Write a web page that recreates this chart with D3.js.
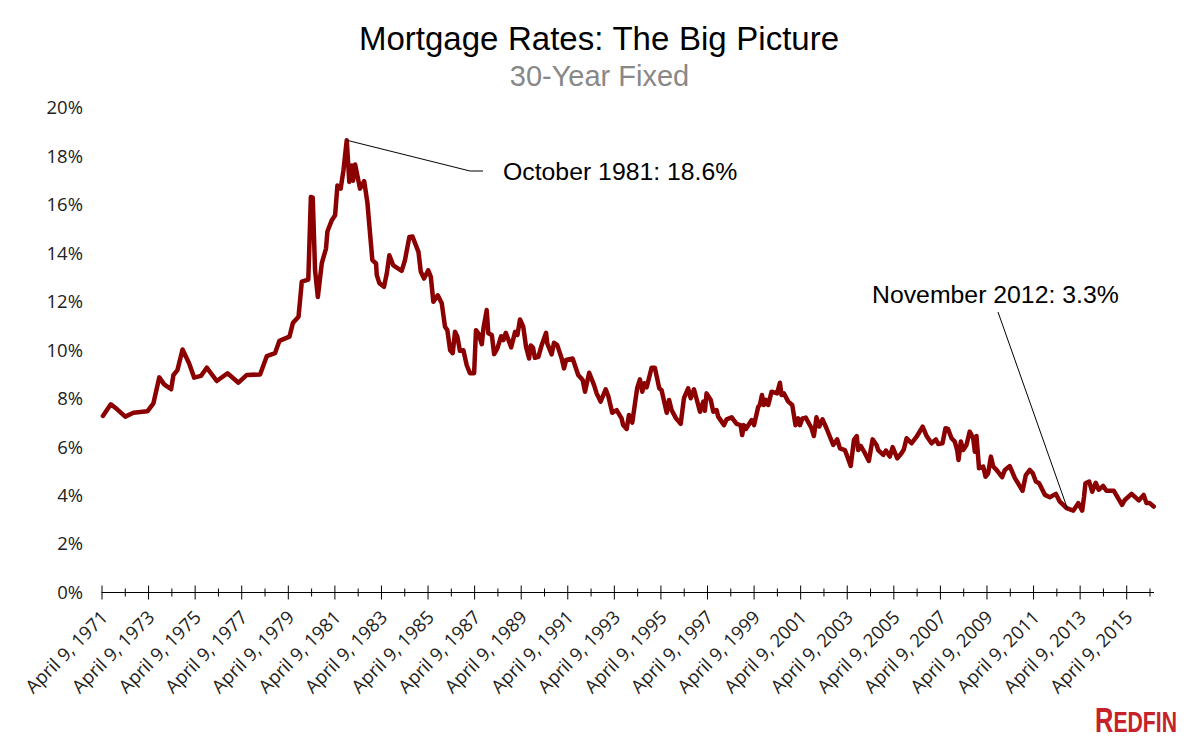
<!DOCTYPE html>
<html>
<head>
<meta charset="utf-8">
<script src="https://cdn.jsdelivr.net/npm/d3@7"></script>
<style>
  html, body { margin: 0; padding: 0; background: #fff; }
  text { font-family: "Liberation Sans", Arial, sans-serif; }
  .tick text { font-family: "Open Sans", sans-serif; font-size: 18.5px; fill: #222; }
</style>
</head>
<body>
<div id="chart"></div>
<script>
// decimal years
const years = [
  1971.33,1971.67,1971.93,1972.29,1972.64,1973.24,1973.50,1973.75,1973.96,1974.26,1974.36,1974.53,1974.75,1975.03,1975.25,1975.54,1975.79,1976.22,1976.68,1977.15,1977.51,1978.08,1978.37,1978.72,1978.91,
  1979.34,1979.49,1979.73,1979.87,1980.15,1980.26,1980.34,1980.44,1980.56,1980.73,1980.91,1980.97,1981.16,1981.30,1981.40,1981.54,1981.66,1981.80,1981.91,1982.02,1982.07,1982.16,1982.37,1982.55,1982.69,1982.80,1982.90,
  1983.06,1983.09,1983.20,1983.40,1983.52,1983.63,1983.80,1984.16,1984.30,1984.49,1984.62,1984.88,1984.98,1985.12,1985.30,1985.41,1985.52,1985.71,1985.88,1986.02,1986.12,1986.24,1986.35,1986.45,1986.55,1986.66,1986.81,1986.95,
  1987.09,1987.27,1987.35,1987.45,1987.60,1987.67,1987.81,1987.88,1988.03,1988.13,1988.27,1988.43,1988.53,1988.63,1988.86,1989.03,1989.13,1989.24,1989.38,1989.50,1989.63,1989.70,1989.80,1989.88,
  1990.03,1990.17,1990.36,1990.41,1990.60,1990.70,1990.84,1991.03,1991.13,1991.22,1991.50,1991.74,1991.93,1992.03,1992.21,1992.42,1992.53,1992.70,1992.92,1993.03,1993.20,1993.39,1993.60,1993.67,1993.82,1993.92,
  1994.06,1994.27,1994.39,1994.49,1994.58,1994.68,1994.89,1995.03,1995.22,1995.32,1995.54,1995.64,1995.75,1995.94,1996.14,1996.28,1996.46,1996.57,1996.71,1996.97,1997.11,1997.18,1997.25,1997.43,1997.54,1997.68,1997.75,
  1998.00,1998.11,1998.33,1998.54,1998.71,1998.78,1998.85,1998.94,1999.19,1999.29,1999.47,1999.54,1999.63,1999.71,1999.80,1999.90,2000.04,2000.28,2000.40,2000.47,2000.57,2000.76,2000.93,
  2001.07,2001.18,2001.26,2001.37,2001.51,2001.76,2001.86,2001.97,2002.09,2002.23,2002.40,2002.69,2002.86,2002.98,2003.19,2003.27,2003.44,2003.58,2003.70,2003.76,2003.87,
  2004.05,2004.22,2004.38,2004.55,2004.62,2004.84,2004.95,2005.12,2005.24,2005.44,2005.62,2005.72,2005.84,2006.05,2006.27,2006.53,2006.70,2006.91,2007.10,2007.20,2007.38,2007.51,2007.62,2007.77,2007.91,
  2008.01,2008.07,2008.17,2008.27,2008.41,2008.55,2008.70,2008.77,2008.84,2008.95,2009.13,2009.23,2009.34,2009.46,2009.56,2009.70,2009.94,2010.06,2010.27,2010.49,2010.82,2010.96,
  2011.13,2011.26,2011.39,2011.53,2011.78,2011.99,2012.25,2012.42,2012.71,2013.00,2013.21,2013.38,2013.46,2013.52,2013.68,2013.81,2013.96,2014.09,2014.28,2014.42,2014.74,2015.09,2015.21,2015.50,2015.81,2016.02,2016.14,2016.28,2016.45
];
const rates = [
  7.29,7.77,7.57,7.26,7.42,7.48,7.81,8.88,8.59,8.39,8.98,9.18,10.03,9.46,8.87,8.94,9.28,8.73,9.05,8.66,8.98,9.0,9.76,9.88,10.39,
  10.56,11.13,11.38,12.83,12.92,16.33,16.3,13.3,12.2,13.6,14.2,14.9,15.37,15.57,16.8,16.67,17.43,18.67,16.95,17.63,17.0,17.67,16.67,16.98,16.07,14.83,13.72,
  13.58,13.1,12.77,12.62,13.17,13.92,13.5,13.28,13.72,14.68,14.7,14.06,13.24,12.96,13.3,13.03,12.0,12.27,11.94,10.97,10.83,10.0,9.88,10.76,10.56,9.98,10.0,9.39,
  9.05,9.05,10.83,10.7,10.25,10.9,11.66,10.7,10.63,9.84,10.08,10.58,10.42,10.72,10.12,10.76,10.63,11.27,10.97,10.14,9.66,10.2,10.1,9.69,
  9.73,10.21,10.72,10.28,9.83,10.31,10.21,9.66,9.25,9.6,9.66,8.98,8.77,8.29,9.07,8.56,8.22,7.88,8.39,8.11,7.42,7.53,7.19,6.91,6.75,7.33,
  7.01,8.43,8.8,8.29,8.64,8.47,9.28,9.28,8.43,8.35,7.42,7.95,7.53,7.19,6.96,8.02,8.43,8.02,8.39,7.46,7.88,7.5,8.22,7.95,7.46,7.53,7.26,
  6.91,7.15,7.23,6.96,6.91,6.5,6.91,6.75,7.12,6.91,7.67,7.74,8.15,7.74,7.95,7.74,8.29,8.22,8.66,8.15,8.22,7.88,7.74,
  6.91,7.19,6.91,7.19,7.22,6.78,6.46,7.23,6.85,7.15,6.78,6.09,6.32,5.95,5.88,5.68,5.22,6.3,6.46,5.88,6.05,
  5.75,5.43,6.32,6.09,5.88,5.68,5.86,5.61,6.0,5.54,5.75,5.9,6.37,6.16,6.43,6.85,6.46,6.16,6.32,6.13,6.16,6.78,6.75,6.37,6.23,
  5.88,5.47,6.23,5.88,6.09,6.64,6.37,5.81,6.46,5.13,5.2,4.78,4.92,5.61,5.2,5.06,4.76,5.06,5.22,4.72,4.2,4.85,
  5.06,4.92,4.58,4.51,4.03,3.93,4.07,3.75,3.48,3.38,3.69,3.38,3.96,4.51,4.58,4.16,4.53,4.24,4.4,4.2,4.2,3.62,3.82,4.07,3.8,4.03,3.69,3.69,3.55
];
const majorTicks = [1971,1973,1975,1977,1979,1981,1983,1985,1987,1989,1991,1993,1995,1997,1999,2001,2003,2005,2007,2009,2011,2013,2015];
const minorTicks = [1972,1974,1976,1978,1980,1982,1984,1986,1988,1990,1992,1994,1996,1998,2000,2002,2004,2006,2008,2010,2012,2014,2016];
const yTicks = [0,2,4,6,8,10,12,14,16,18,20];

const w = 1200, h = 750;
const tickOffset = 0.27; // ticks fall on April 9

const x = d3.scaleLinear().domain([1971.27, 2016.27]).range([101.5, 1149.5]);
const y = d3.scaleLinear().domain([0, 20]).range([592.5, 108]);

const svg = d3.select("#chart").append("svg")
  .attr("width", w)
  .attr("height", h)
  .style("display", "block");

// titles
svg.append("text").attr("x", 599).attr("y", 50)
  .attr("text-anchor", "middle")
  .style("font-size", "33px").style("word-spacing", "0.5px").style("fill", "#000")
  .text("Mortgage Rates: The Big Picture");
svg.append("text").attr("x", 599.5).attr("y", 86)
  .attr("text-anchor", "middle")
  .style("font-size", "29px").style("fill", "#888")
  .text("30-Year Fixed");

// y axis, labels only
const yAxis = svg.append("g")
  .attr("transform", "translate(83,0)")
  .call(d3.axisLeft(y).tickValues(yTicks).tickSize(0).tickPadding(0).tickFormat(d => d + "%"));
yAxis.select(".domain").remove();

// x axis
const xMinor = svg.append("g")
  .attr("transform", "translate(0," + y(0) + ")")
  .call(d3.axisBottom(x).tickValues(minorTicks.map(d => d + tickOffset)).tickSize(4).tickFormat(""));
xMinor.select(".domain").remove();
xMinor.selectAll("line").attr("y1", -4).attr("stroke", "#000");

const xMajor = svg.append("g")
  .attr("transform", "translate(0," + y(0) + ")")
  .call(d3.axisBottom(x).tickValues(majorTicks.map(d => d + tickOffset)).tickSize(7)
    .tickFormat(d => "April 9, " + Math.floor(d)));
xMajor.select(".domain").remove();
xMajor.selectAll("line").attr("y1", -7).attr("stroke", "#000");
xMajor.selectAll("text")
  .attr("text-anchor", "end")
  .attr("dy", 0)
  .attr("transform", d => "translate(0,19) rotate(-45)");

svg.append("line")
  .attr("x1", x(1971.27)).attr("x2", 1154)
  .attr("y1", y(0)).attr("y2", y(0))
  .attr("stroke", "#000");

// the series
const line = d3.line()
  .x((d, i) => x(years[i]))
  .y(d => y(d))
  .curve(d3.curveLinear);

svg.append("path")
  .datum(rates)
  .attr("d", line)
  .attr("fill", "none")
  .attr("stroke", "#8b0000")
  .attr("stroke-width", 4.5)
  .attr("stroke-linejoin", "round")
  .attr("stroke-linecap", "round");

// callouts
svg.append("polyline")
  .attr("points", [[x(1981.80), y(18.67)], [470, 171], [483, 171]].join(" "))
  .attr("fill", "none").attr("stroke", "#000").attr("stroke-width", 1);
svg.append("text").attr("x", 503).attr("y", 180)
  .style("font-size", "24.8px").text("October 1981: 18.6%");

svg.append("line")
  .attr("x1", 998).attr("y1", 312)
  .attr("x2", x(2012.75)).attr("y2", y(3.45))
  .attr("stroke", "#000").attr("stroke-width", 1);
svg.append("text").attr("x", 872).attr("y", 303)
  .style("font-size", "24.8px").text("November 2012: 3.3%");

// logo, squeezed sideways since there is no condensed face to rely on
const logo = svg.append("text")
  .attr("transform", "translate(1095,732) scale(0.707,1)")
  .style("font-weight", "bold").style("fill", "#c5222a");
logo.append("tspan").style("font-size", "36px").text("R");
logo.append("tspan").style("font-size", "30px").text("EDFIN");
</script>
</body>
</html>
